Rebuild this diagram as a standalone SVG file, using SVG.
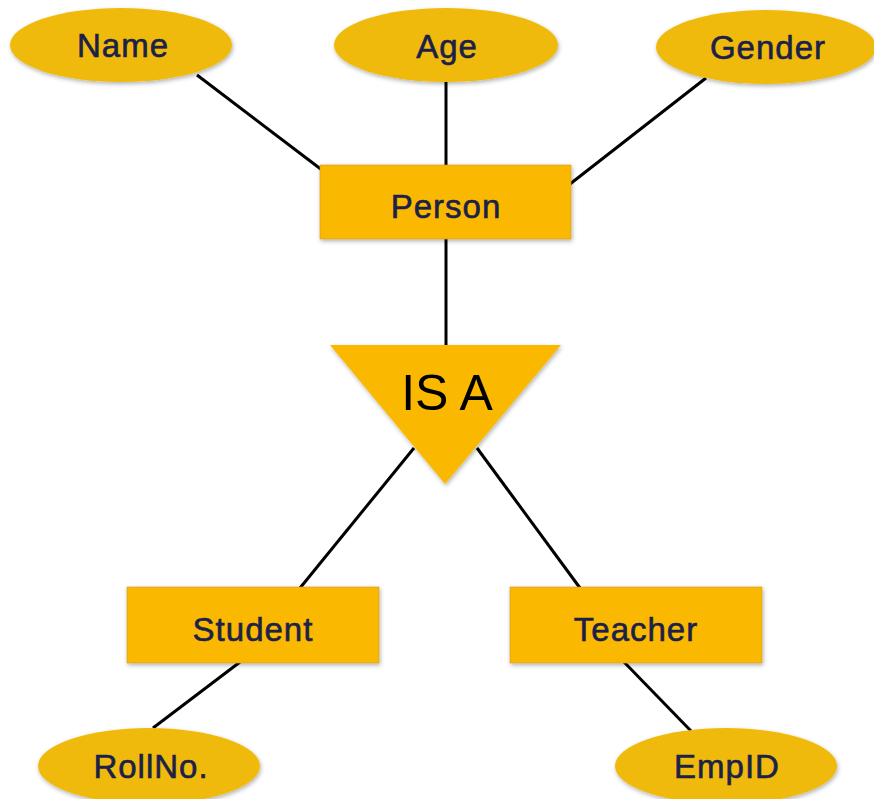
<svg xmlns="http://www.w3.org/2000/svg" width="874" height="799" viewBox="0 0 874 799">
<defs>
<filter id="sh" x="-10%" y="-10%" width="130%" height="140%">
<feDropShadow dx="1" dy="2" stdDeviation="2" flood-color="#000" flood-opacity="0.3"/>
</filter>
<style>
.ell{fill:#F0BA0A;filter:url(#sh)}
.ent{fill:#FBB805;stroke:#c99a20;stroke-width:0.6;filter:url(#sh)}
.lbl{font-family:"Liberation Sans",Arial,sans-serif;font-size:33px;letter-spacing:1px;fill:#1b2148;stroke:#1b2148;stroke-width:0.6;text-anchor:middle}
.con line{stroke:#000;stroke-width:3}
</style>
</defs>
<rect width="874" height="799" fill="#fff"/>
<g class="con">
<line x1="197" y1="75" x2="322" y2="170"/>
<line x1="446" y1="82" x2="446" y2="166"/>
<line x1="706" y1="78" x2="570" y2="184"/>
<line x1="446" y1="238" x2="446" y2="346"/>
<line x1="414" y1="448" x2="300" y2="588"/>
<line x1="477" y1="448" x2="580" y2="588"/>
<line x1="240" y1="662" x2="153" y2="728"/>
<line x1="624" y1="662" x2="691" y2="731"/>
</g>
<g id="name"><ellipse class="ell" cx="121" cy="45" rx="111" ry="37"/><text class="lbl" x="123" y="57">Name</text></g>
<g id="age"><ellipse class="ell" cx="446" cy="45" rx="112" ry="37"/><text class="lbl" x="447" y="58">Age</text></g>
<g id="gender"><ellipse class="ell" cx="766" cy="47" rx="110" ry="37"/><text class="lbl" x="768" y="59">Gender</text></g>
<g id="person"><rect class="ent" x="320" y="165" width="251" height="74"/><text class="lbl" x="446" y="218">Person</text></g>
<g id="isa"><polygon points="330,345 561,345 445,484" fill="#FBB805" filter="url(#sh)"/><text x="447" y="410" font-family="'Liberation Sans',Arial,sans-serif" font-size="50" fill="#000" text-anchor="middle">IS A</text></g>
<g id="student"><rect class="ent" x="127" y="587" width="252" height="76"/><text class="lbl" x="253" y="641">Student</text></g>
<g id="teacher"><rect class="ent" x="510" y="587" width="252" height="76"/><text class="lbl" x="636" y="641">Teacher</text></g>
<g id="rollno"><ellipse class="ell" cx="149" cy="766" rx="111" ry="38"/><text class="lbl" x="151" y="778">RollNo.</text></g>
<g id="empid"><ellipse class="ell" cx="726" cy="766" rx="111" ry="38"/><text class="lbl" x="727" y="778">EmpID</text></g>
</svg>
